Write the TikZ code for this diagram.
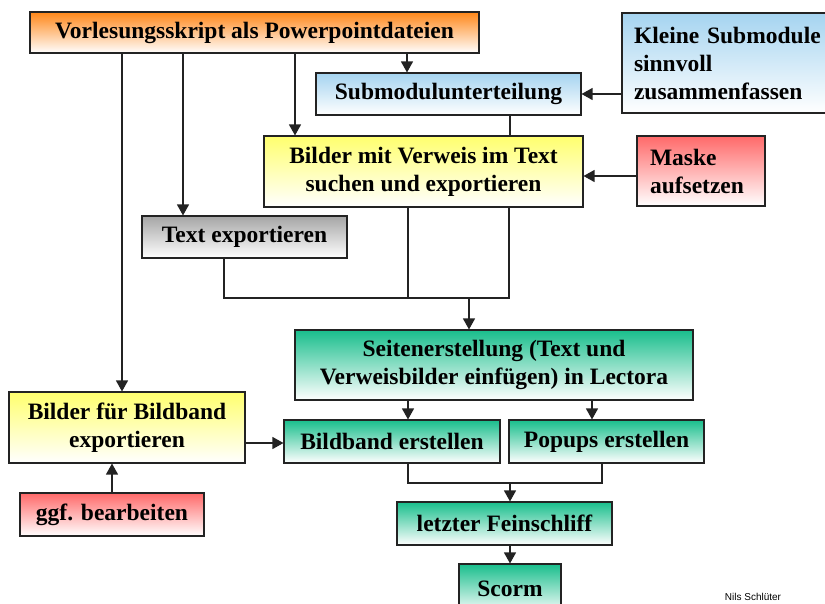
\documentclass[tikz,border=0pt]{standalone}
\usepackage{fontspec}
\setmainfont{Liberation Serif}
\newfontfamily\sigfont{Liberation Sans}
\usetikzlibrary{arrows.meta}
\definecolor{cOrange}{RGB}{255,135,25}
\definecolor{cBlue}{RGB}{165,212,240}
\definecolor{cYellow}{RGB}{255,255,110}
\definecolor{cRed}{RGB}{255,105,105}
\definecolor{cGray}{RGB}{165,165,165}
\definecolor{cGreen}{RGB}{25,190,140}
\definecolor{cLine}{RGB}{35,35,35}
\begin{document}
\begin{tikzpicture}[x=1pt,y=-1pt,
  bx/.style={draw=cLine, line width=1.1pt, inner sep=0pt, align=center,
    font=\fontsize{23.5}{28}\selectfont\bfseries, bottom color=white},
  sz/.style 2 args={minimum width=#1pt, minimum height=#2pt},
  ln/.style={draw=cLine, line width=1.2pt},
  arr/.style={ln, -{Triangle[width=12pt,length=11pt]}}]
\useasboundingbox (0,0) rectangle (825,603);

% boxes
\node[bx, sz={449}{41}, top color=cOrange] (vorl) at (254.5,32.5) {Vorlesungsskript als Powerpointdateien};
\node[bx, sz={265}{42}, top color=cBlue] (submod) at (448.5,94) {Submodulunterteilung};
\node[bx, sz={218}{100}, top color=cBlue, align=left, text width=194pt, inner xsep=12pt] (kleine) at (731,63) {Kleine Submodule\\sinnvoll\\zusammenfassen};
\node[bx, sz={319}{71}, top color=cYellow] (bilderv) at (423.5,171.5) {Bilder mit Verweis im Text\\suchen und exportieren};
\node[bx, sz={128}{70}, top color=cRed, align=left, text width=102pt, inner xsep=13pt] (maske) at (701,171) {Maske\\aufsetzen};
\node[bx, sz={205}{42}, top color=cGray] (textexp) at (244.5,237) {Text exportieren};
\node[bx, sz={398}{70}, top color=cGreen] (seiten) at (494,365) {Seitenerstellung (Text und\\Verweisbilder einfügen) in Lectora};
\node[bx, sz={236}{71}, top color=cYellow] (bilderb) at (127,427.5) {Bilder für Bildband\\exportieren};
\node[bx, sz={184}{43}, top color=cRed] (ggf) at (112,514.5) {ggf. bearbeiten};
\node[bx, sz={216}{43}, top color=cGreen] (bbe) at (392,441.5) {Bildband erstellen};
\node[bx, sz={195}{43}, top color=cGreen] (popups) at (606.5,441.5) {Popups erstellen};
\node[bx, sz={215}{43}, top color=cGreen] (letzter) at (504.5,523.5) {letzter Feinschliff};
\node[bx, sz={102}{50}, top color=cGreen] (scorm) at (510,589) {Scorm};
\node[font=\sigfont\fontsize{10}{12}\selectfont, inner sep=0pt] (sig) at (753,596.5) {Nils Schlüter};

% helper coordinates
\coordinate (x122) at (122,0);
\coordinate (x183) at (183,0);
\coordinate (x295) at (295,0);
\coordinate (x407) at (407,0);
\coordinate (x510) at (510,0);
\coordinate (x224) at (224,0);
\coordinate (x408) at (408,0);
\coordinate (x509) at (509,0);
\coordinate (x592) at (592,0);
\coordinate (x602) at (602,0);
\coordinate (y176) at (0,176);
\coordinate (y443) at (0,443);
\coordinate (j1) at (469,298);
\coordinate (j2) at (510,483);

% connectors
\draw[arr] (vorl.south -| x407) -- (submod.north -| x407);
\draw[arr] (vorl.south -| x295) -- (bilderv.north -| x295);
\draw[arr] (vorl.south -| x183) -- (textexp.north -| x183);
\draw[arr] (vorl.south -| x122) -- (bilderb.north -| x122);
\draw[arr] (kleine.west |- submod.east) -- (submod.east);
\draw[ln] (submod.south -| x510) -- (bilderv.north -| x510);
\draw[arr] (maske.west |- y176) -- (bilderv.east |- y176);
\draw[ln] (textexp.south -| x224) -- (x224 |- j1) -- (x509 |- j1) -- (bilderv.south -| x509);
\draw[ln] (bilderv.south -| x408) -- (x408 |- j1);
\draw[arr] (j1) -- (seiten.north -| j1);
\draw[arr] (seiten.south -| x408) -- (bbe.north -| x408);
\draw[arr] (seiten.south -| x592) -- (popups.north -| x592);
\draw[arr] (bilderb.east |- y443) -- (bbe.west |- y443);
\draw[arr] (ggf.north) -- (bilderb.south -| ggf.north);
\draw[ln] (bbe.south -| x408) -- (x408 |- j2) -- (x602 |- j2) -- (popups.south -| x602);
\draw[arr] (j2) -- (letzter.north -| j2);
\draw[arr] (letzter.south -| j2) -- (scorm.north -| j2);
\end{tikzpicture}
\end{document}
